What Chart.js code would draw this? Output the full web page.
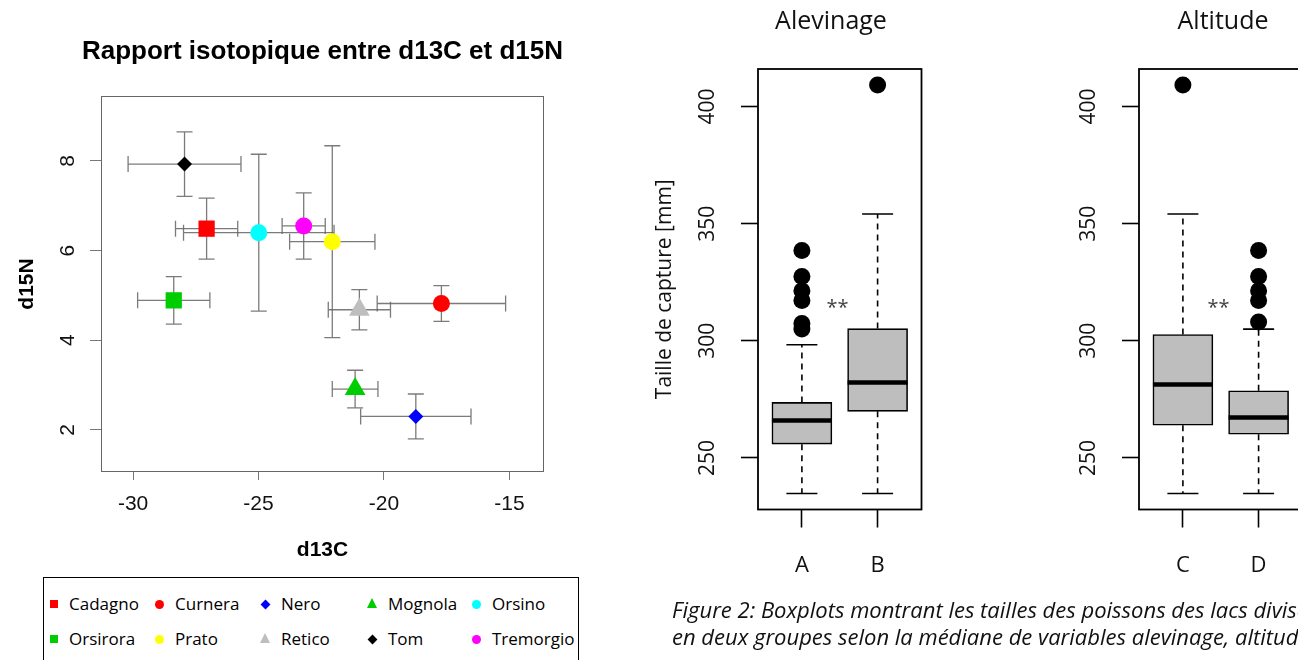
<!DOCTYPE html>
<html>
<head>
<meta charset="utf-8">
<script src="https://cdn.jsdelivr.net/npm/chart.js@4.4.1/dist/chart.umd.min.js"></script>
<style>
  html,body{margin:0;padding:0;background:#fff;}
  body{width:1298px;height:660px;overflow:hidden;position:relative;}
  .abs{position:absolute;}
  #legend{position:absolute;left:43px;top:577px;width:536px;height:120px;border:1.5px solid #000;box-sizing:border-box;}
  .lt{position:absolute;font:17px "Open Sans",sans-serif;color:#000;line-height:20px;white-space:nowrap;transform:translateY(-50%);}
  .mk{position:absolute;}
  #caption{position:absolute;left:672px;top:596px;font:italic 22px "Open Sans",sans-serif;line-height:27px;color:#111;white-space:nowrap;}
</style>
</head>
<body>
<canvas id="scatter" class="abs" style="left:0;top:0" width="600" height="575"></canvas>
<canvas id="alev" class="abs" style="left:640px;top:0" width="330" height="600"></canvas>
<canvas id="alt" class="abs" style="left:1021px;top:0" width="330" height="600"></canvas>
<div id="legend"></div>
<div id="caption">Figure 2: Boxplots montrant les tailles des poissons des lacs divisés<br>en deux groupes selon la médiane de variables alevinage, altitude</div>
<script>
// ---------------- DATA ----------------
const lakes   = ['Cadagno','Curnera','Nero','Mognola','Orsino','Orsirora','Prato','Retico','Tom','Tremorgio'];
const d13C    = [-27.07, -17.71, -18.73, -21.15, -24.99, -28.38, -22.06, -20.98, -27.95, -23.20];
const d15N    = [6.49, 4.82, 2.30, 2.91, 6.40, 4.89, 6.20, 4.68, 7.93, 6.55];
const d13CErr = [1.24, 2.56, 2.20, 0.91, 3.00, 1.44, 1.70, 1.24, 2.25, 0.86];
const d15NErr = [0.68, 0.40, 0.50, 0.42, 1.75, 0.53, 2.14, 0.45, 0.72, 0.74];
const d13CTicks = [-30, -25, -20, -15];
const d15NTicks = [2, 4, 6, 8];

const alevGroups      = ['A', 'B'];
const alevWhiskerLow  = [234.8, 234.8];
const alevQ1          = [255.9, 269.9];
const alevMedian      = [266.0, 282.2];
const alevQ3          = [273.7, 305.2];
const alevWhiskerHigh = [298.3, 354.1];
const alevOutliersA   = [305.0, 307.4, 317.2, 321.4, 327.4, 338.5];
const alevOutliersB   = [409.2];

const altGroups       = ['C', 'D'];
const altWhiskerLow   = [234.8, 234.8];
const altQ1           = [264.0, 260.1];
const altMedian       = [281.4, 267.3];
const altQ3           = [302.7, 278.7];
const altWhiskerHigh  = [354.1, 305.0];
const altOutliersC    = [409.2];
const altOutliersD    = [308.0, 317.2, 321.4, 327.4, 338.5];

const sizeTicks = [250, 300, 350, 400];

// ---------------- STYLES ----------------
const lakeColors = ['#FF0000','#FF0000','#0000FF','#00CD00','#00FFFF','#00CD00','#FFFF00','#BEBEBE','#000000','#FF00FF'];
const lakeShapes = ['rect','circle','rectRot','triangle','circle','rect','circle','triangle','rectRot','circle'];
const shapeRadius = {rect: 11.5, circle: 8.5, rectRot: 7.5, triangle: 12};

const SANS = '"Liberation Sans", Arial, sans-serif';
const OPEN = '"Open Sans", sans-serif';

// ---------------- SCATTER ----------------
const scatterDeco = {
  id: 'scatterDeco',
  beforeDatasetsDraw(chart) {
    const {ctx, chartArea: a, scales: {x, y}} = chart;
    ctx.save();
    ctx.strokeStyle = '#666'; ctx.lineWidth = 1;
    ctx.strokeRect(a.left + 0.5, a.top + 0.5, a.right - a.left - 1, a.bottom - a.top - 1);
    ctx.strokeStyle = 'rgba(100,100,100,0.85)'; ctx.lineWidth = 1.3;
    const cap = 8;
    for (let i = 0; i < lakes.length; i++) {
      const px = x.getPixelForValue(d13C[i]), py = y.getPixelForValue(d15N[i]);
      const x0 = x.getPixelForValue(d13C[i] - d13CErr[i]), x1 = x.getPixelForValue(d13C[i] + d13CErr[i]);
      const y0 = y.getPixelForValue(d15N[i] - d15NErr[i]), y1 = y.getPixelForValue(d15N[i] + d15NErr[i]);
      ctx.beginPath();
      ctx.moveTo(x0, py); ctx.lineTo(x1, py);
      ctx.moveTo(x0, py - cap); ctx.lineTo(x0, py + cap);
      ctx.moveTo(x1, py - cap); ctx.lineTo(x1, py + cap);
      ctx.moveTo(px, y0); ctx.lineTo(px, y1);
      ctx.moveTo(px - cap, y0); ctx.lineTo(px + cap, y0);
      ctx.moveTo(px - cap, y1); ctx.lineTo(px + cap, y1);
      ctx.stroke();
    }
    ctx.restore();
  },
  afterDraw(chart) {
    const {ctx, chartArea: a, scales: {y}} = chart;
    const cx = (a.left + a.right) / 2, cy = (a.top + a.bottom) / 2;
    ctx.save();
    ctx.fillStyle = '#000'; ctx.textAlign = 'center'; ctx.textBaseline = 'middle';
    ctx.font = 'bold 26px ' + SANS;
    ctx.fillText('Rapport isotopique entre d13C et d15N', cx, 52);
    ctx.font = 'bold 21px ' + SANS;
    ctx.fillText('d13C', cx, 550);
    ctx.save(); ctx.translate(27, cy); ctx.rotate(-Math.PI / 2); ctx.fillText('d15N', 0, 0); ctx.restore();
    ctx.font = '21px ' + SANS; ctx.fillStyle = '#111';
    d15NTicks.forEach(v => {
      ctx.save(); ctx.translate(68, y.getPixelForValue(v)); ctx.rotate(-Math.PI / 2);
      ctx.fillText(String(v), 0, 0); ctx.restore();
    });
    ctx.restore();
  }
};

new Chart(document.getElementById('scatter'), {
  type: 'scatter',
  data: {
    datasets: [{
      data: lakes.map((n, i) => ({x: d13C[i], y: d15N[i]})),
      pointStyle: lakeShapes,
      pointRadius: lakeShapes.map(s => shapeRadius[s]),
      pointBackgroundColor: lakeColors,
      pointBorderWidth: 0
    }]
  },
  options: {
    responsive: false, animation: false, events: [],
    layout: {padding: {left: 0, top: 96, right: 56, bottom: 0}},
    plugins: {legend: {display: false}, tooltip: {enabled: false}},
    scales: {
      x: {
        type: 'linear', min: -31.28, max: -13.62,
        afterBuildTicks: s => { s.ticks = d13CTicks.map(v => ({value: v})); },
        afterFit: s => { s.height = 103; },
        border: {display: false},
        grid: {drawOnChartArea: false, drawTicks: true, tickLength: 8, tickColor: '#777', tickWidth: 1},
        ticks: {padding: 12, color: '#111', font: {family: SANS, size: 21}, callback: v => String(v), maxRotation: 0}
      },
      y: {
        type: 'linear', min: 1.06, max: 9.45,
        afterBuildTicks: s => { s.ticks = d15NTicks.map(v => ({value: v})); },
        afterFit: s => { s.width = 101; },
        border: {display: false},
        grid: {drawOnChartArea: false, drawTicks: true, tickLength: 11, tickColor: '#777', tickWidth: 1},
        ticks: {display: false}
      }
    }
  },
  plugins: [scatterDeco]
});

// ---------------- LEGEND ----------------
(function () {
  const lg = document.getElementById('legend');
  const order = [0, 1, 2, 3, 4, 5, 6, 7, 8, 9];
  const markX = [52.5, 158, 264, 371.5, 475.5];
  const textX = [68, 174, 280, 387, 491];
  const rowY = [603, 638];
  order.forEach((idx, k) => {
    const col = k % 5, row = Math.floor(k / 5);
    const mx = markX[col] - 43, my = rowY[row] - 577, c = lakeColors[idx], s = lakeShapes[idx];
    const m = document.createElement('div'); m.className = 'mk';
    if (s === 'rect') { m.style.cssText += `left:${mx-4}px;top:${my-4}px;width:8px;height:8px;background:${c}`; }
    else if (s === 'circle') { m.style.cssText += `left:${mx-4.5}px;top:${my-4.5}px;width:9px;height:9px;border-radius:50%;background:${c}`; }
    else if (s === 'rectRot') { m.style.cssText += `left:${mx-3.5}px;top:${my-3.5}px;width:7px;height:7px;background:${c};transform:rotate(45deg)`; }
    else { m.style.cssText += `left:${mx-5.5}px;top:${my-6}px;width:0;height:0;border-left:5.5px solid transparent;border-right:5.5px solid transparent;border-bottom:10px solid ${c}`; }
    lg.appendChild(m);
    const t = document.createElement('div'); t.className = 'lt';
    t.style.left = (textX[col] - 43) + 'px'; t.style.top = my + 'px';
    t.textContent = lakes[idx];
    lg.appendChild(t);
  });
})();

// ---------------- BOXPLOTS ----------------
function boxChart(id, groups, lo, q1, med, q3, hi, outliers, title, titleX, yTitle) {
  const deco = {
    id: 'boxDeco' + id,
    beforeDatasetsDraw(chart) {
      const {ctx, chartArea: a, scales: {x, y}} = chart;
      ctx.save();
      ctx.strokeStyle = '#000'; ctx.lineWidth = 1.8;
      ctx.strokeRect(a.left, a.top, a.right - a.left, a.bottom - a.top);
      ctx.lineWidth = 1.6;
      groups.forEach((g, i) => {
        const px = x.getPixelForValue(i + 1);
        ctx.setLineDash([6, 5]);
        ctx.beginPath();
        ctx.moveTo(px, y.getPixelForValue(q3[i])); ctx.lineTo(px, y.getPixelForValue(hi[i]));
        ctx.moveTo(px, y.getPixelForValue(q1[i])); ctx.lineTo(px, y.getPixelForValue(lo[i]));
        ctx.stroke();
        ctx.setLineDash([]);
        ctx.beginPath();
        ctx.moveTo(px - 15.5, y.getPixelForValue(hi[i])); ctx.lineTo(px + 15.5, y.getPixelForValue(hi[i]));
        ctx.moveTo(px - 15.5, y.getPixelForValue(lo[i])); ctx.lineTo(px + 15.5, y.getPixelForValue(lo[i]));
        ctx.stroke();
      });
      ctx.restore();
    },
    afterDatasetsDraw(chart) {
      const {ctx, scales: {y}} = chart;
      const meta = chart.getDatasetMeta(0);
      ctx.save();
      ctx.strokeStyle = '#000'; ctx.lineWidth = 4.5;
      meta.data.forEach((bar, i) => {
        const py = y.getPixelForValue(med[i]);
        ctx.beginPath(); ctx.moveTo(bar.x - bar.width / 2, py); ctx.lineTo(bar.x + bar.width / 2, py); ctx.stroke();
      });
      ctx.restore();
    },
    afterDraw(chart) {
      const {ctx, chartArea: a, scales: {x, y}} = chart;
      ctx.save();
      ctx.fillStyle = '#111'; ctx.textAlign = 'center'; ctx.textBaseline = 'middle';
      ctx.font = '25px ' + OPEN;
      ctx.fillText(title, titleX, 22);
      ctx.font = '21px ' + OPEN;
      sizeTicks.forEach(v => {
        ctx.save(); ctx.translate(68, y.getPixelForValue(v)); ctx.rotate(-Math.PI / 2);
        ctx.fillText(String(v), 0, 0); ctx.restore();
      });
      if (yTitle) {
        ctx.save(); ctx.translate(25, (a.top + a.bottom) / 2); ctx.rotate(-Math.PI / 2);
        ctx.fillText(yTitle, 0, 0); ctx.restore();
      }
      ctx.fillStyle = '#444'; ctx.font = '20px ' + OPEN; ctx.textBaseline = 'alphabetic';
      ctx.fillText('**', x.getPixelForValue(1.47), y.getPixelForValue(316.3) + 11);
      ctx.restore();
    }
  };
  const outPts = [];
  outliers.forEach((arr, i) => arr.forEach(v => outPts.push({x: i + 1, y: v})));
  new Chart(document.getElementById(id), {
    type: 'bar',
    data: {
      datasets: [
        {type: 'bar', data: groups.map((g, i) => ({x: i + 1, y: [q1[i], q3[i]]})),
         backgroundColor: '#BEBEBE', borderColor: '#000', borderWidth: 1.6, borderSkipped: false, barThickness: 60},
        {type: 'scatter', data: outPts, pointRadius: 8.5, pointBackgroundColor: '#000', pointBorderWidth: 0}
      ]
    },
    options: {
      responsive: false, animation: false, events: [],
      layout: {padding: {left: 0, top: 69, right: 48.5, bottom: 0}},
      plugins: {legend: {display: false}, tooltip: {enabled: false}},
      scales: {
        x: {
          type: 'linear', min: 0.42, max: 2.58, offset: false,
          afterBuildTicks: s => { s.ticks = groups.map((g, i) => ({value: i + 1})); },
          afterFit: s => { s.height = 90.5; },
          border: {display: false},
          grid: {drawOnChartArea: false, drawTicks: true, tickLength: 18, tickColor: '#000', tickWidth: 1.6, offset: false},
          ticks: {padding: 25, color: '#111', font: {family: OPEN, size: 22}, maxRotation: 0,
                  callback: v => groups[Math.round(v) - 1] || ''}
        },
        y: {
          type: 'linear', min: 228.0, max: 416.0,
          afterBuildTicks: s => { s.ticks = sizeTicks.map(v => ({value: v})); },
          afterFit: s => { s.width = 118; },
          border: {display: false},
          grid: {drawOnChartArea: false, drawTicks: true, tickLength: 17, tickColor: '#000', tickWidth: 1.6},
          ticks: {display: false}
        }
      }
    },
    plugins: [deco]
  });
}

boxChart('alev', alevGroups, alevWhiskerLow, alevQ1, alevMedian, alevQ3, alevWhiskerHigh,
         [alevOutliersA, alevOutliersB], 'Alevinage', 191, 'Taille de capture [mm]');
boxChart('alt', altGroups, altWhiskerLow, altQ1, altMedian, altQ3, altWhiskerHigh,
         [altOutliersC, altOutliersD], 'Altitude', 202, null);
</script>
</body>
</html>
